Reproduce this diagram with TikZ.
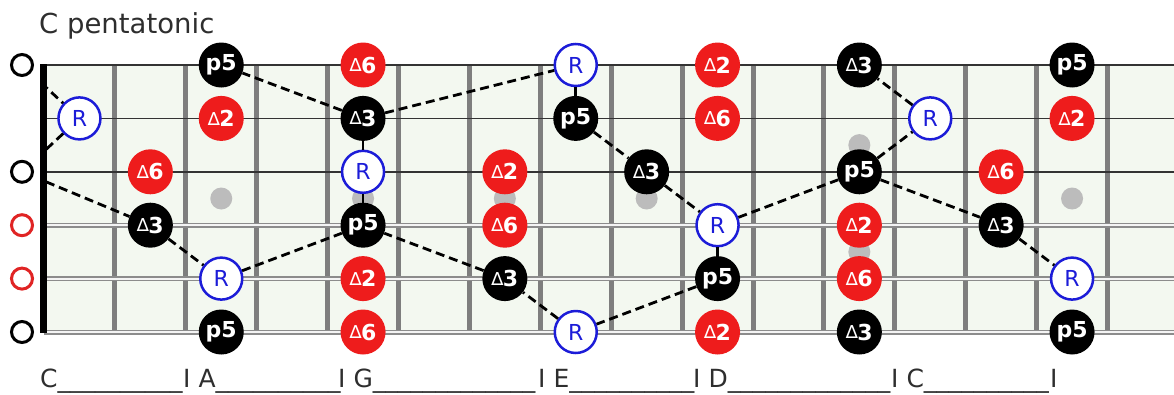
\documentclass[tikz,border=0pt]{standalone}
\usepackage{fontspec}
\setmainfont{DejaVu Sans}
\definecolor{boardfill}{HTML}{F3F8F0}
\definecolor{fretgray}{HTML}{7E7E7E}
\definecolor{dotgray}{HTML}{BCBCBC}
\definecolor{notered}{HTML}{EE1C1C}
\definecolor{rootblue}{HTML}{1C1CD8}
\definecolor{openred}{HTML}{E02424}
\definecolor{plainstring}{HTML}{333333}
\definecolor{woundedge}{HTML}{8C8C8C}
\definecolor{woundcore}{HTML}{F4F4F4}
\definecolor{labelgray}{HTML}{2E2E2E}
\newcommand\dmk{\raisebox{1.5pt}{\fontsize{18}{18}\selectfont\mdseries ∆}\kern-0.5pt}
\begin{document}
\begin{tikzpicture}[x=1pt,y=-1pt,
  note/.style={circle, minimum size=45pt, inner sep=0pt,
    font=\fontsize{22}{22}\selectfont\bfseries, text=white},
  blacknote/.style={note, fill=black},
  rednote/.style={note, fill=notered},
  rootnote/.style={note, minimum size=42pt, fill=white, draw=rootblue,
    line width=2.5pt, text=rootblue, font=\fontsize{22}{22}\selectfont},
  opennote/.style={circle, minimum size=21pt, inner sep=0pt, draw, line width=3pt, fill=white},
  link/.style={dash pattern=on 9pt off 5pt, line width=2.8pt, black},
  fretline/.style={fretgray, line width=5pt},
  posdot/.style={circle, fill=dotgray, minimum size=22pt, inner sep=0pt},
  caption/.style={anchor=base west, inner sep=0pt, text=labelgray,
    font=\fontsize{25}{25}\selectfont}]
\useasboundingbox (0,0) rectangle (1174,394);

% fretboard
\fill[boardfill] (44,65) rectangle (1174,332);
\foreach \n in {1,...,15}
  \draw[fretline] ({44+70.9*\n},65) -- ({44+70.9*\n},332);

% position markers
\foreach \f/\y in {3/198.5,5/198.5,7/198.5,9/198.5,12/145.1,12/251.9,15/198.5}
  \node[posdot] at ({44+70.9*(\f-0.5)},\y) {};

% strings: three plain, three wound
\foreach \y in {65,118.4,171.8}
  \draw[plainstring, line width=1.7pt] (44,\y) -- (1174,\y);
\foreach \y in {225.2,278.6,332}{
  \draw[woundedge, line width=5pt] (44,\y) -- (1174,\y);
  \draw[woundcore, line width=1.8pt] (44,\y) -- (1174,\y);
}

% nut
\draw[black, line width=6.5pt] (43.5,64) -- (43.5,333);

% open strings
\node[opennote, draw=black]   (o1) at (22,65) {};
\node[opennote, draw=black]   (o3) at (22,171.8) {};
\node[opennote, draw=openred] (o4) at (22,225.2) {};
\node[opennote, draw=openred] (o5) at (22,278.6) {};
\node[opennote, draw=black]   (o6) at (22,332) {};

% string 1
\node[blacknote] (s1f3)  at (221.25,65) {p5};
\node[rednote]   (s1f5)  at (363.05,65) {\dmk6};
\node[rootnote]  (s1f8)  at (575.75,65) {R};
\node[rednote]   (s1f10) at (717.55,65) {\dmk2};
\node[blacknote] (s1f12) at (859.35,65) {\dmk3};
\node[blacknote] (s1f15) at (1072.05,65) {p5};
% string 2
\node[rootnote]  (s2f1)  at (79.45,118.4) {R};
\node[rednote]   (s2f3)  at (221.25,118.4) {\dmk2};
\node[blacknote] (s2f5)  at (363.05,118.4) {\dmk3};
\node[blacknote] (s2f8)  at (575.75,118.4) {p5};
\node[rednote]   (s2f10) at (717.55,118.4) {\dmk6};
\node[rootnote]  (s2f13) at (930.25,118.4) {R};
\node[rednote]   (s2f15) at (1072.05,118.4) {\dmk2};
% string 3
\node[rednote]   (s3f2)  at (150.35,171.8) {\dmk6};
\node[rootnote]  (s3f5)  at (363.05,171.8) {R};
\node[rednote]   (s3f7)  at (504.85,171.8) {\dmk2};
\node[blacknote] (s3f9)  at (646.65,171.8) {\dmk3};
\node[blacknote] (s3f12) at (859.35,171.8) {p5};
\node[rednote]   (s3f14) at (1001.15,171.8) {\dmk6};
% string 4
\node[blacknote] (s4f2)  at (150.35,225.2) {\dmk3};
\node[blacknote] (s4f5)  at (363.05,225.2) {p5};
\node[rednote]   (s4f7)  at (504.85,225.2) {\dmk6};
\node[rootnote]  (s4f10) at (717.55,225.2) {R};
\node[rednote]   (s4f12) at (859.35,225.2) {\dmk2};
\node[blacknote] (s4f14) at (1001.15,225.2) {\dmk3};
% string 5
\node[rootnote]  (s5f3)  at (221.25,278.6) {R};
\node[rednote]   (s5f5)  at (363.05,278.6) {\dmk2};
\node[blacknote] (s5f7)  at (504.85,278.6) {\dmk3};
\node[blacknote] (s5f10) at (717.55,278.6) {p5};
\node[rednote]   (s5f12) at (859.35,278.6) {\dmk6};
\node[rootnote]  (s5f15) at (1072.05,278.6) {R};
% string 6
\node[blacknote] (s6f3)  at (221.25,332) {p5};
\node[rednote]   (s6f5)  at (363.05,332) {\dmk6};
\node[rootnote]  (s6f8)  at (575.75,332) {R};
\node[rednote]   (s6f10) at (717.55,332) {\dmk2};
\node[blacknote] (s6f12) at (859.35,332) {\dmk3};
\node[blacknote] (s6f15) at (1072.05,332) {p5};

% connecting path through the scale shapes
\begin{scope}
  \clip (46,0) rectangle (1174,394);
  \draw[link] (o1) -- (s2f1);
  \draw[link] (s2f1) -- (o3);
  \draw[link] (o3) -- (s4f2);
\end{scope}
\draw[link] (s4f2) -- (s5f3);
\draw[link] (s5f3) -- (s4f5);
\draw[link] (s4f5) -- (s3f5);
\draw[link] (s3f5) -- (s2f5);
\draw[link] (s2f5) -- (s1f3);
\draw[link] (s2f5) -- (s1f8);
\draw[link] (s1f8) -- (s2f8);
\draw[link] (s2f8) -- (s3f9);
\draw[link] (s3f9) -- (s4f10);
\draw[link] (s4f10) -- (s5f10);
\draw[link] (s5f10) -- (s6f8);
\draw[link] (s6f8) -- (s5f7);
\draw[link] (s5f7) -- (s4f5);
\draw[link] (s4f10) -- (s3f12);
\draw[link] (s3f12) -- (s2f13);
\draw[link] (s2f13) -- (s1f12);
\draw[link] (s3f12) -- (s4f14);
\draw[link] (s4f14) -- (s5f15);

% title and chord-shape names
\node[caption, font=\fontsize{27.5}{27.5}\selectfont] (title) at (39,33) {C pentatonic};
\node[caption] (c1) at (40,387) {C\_\_\_\_\_\_\_\_\_\_};
\node[caption] (c2) at (183,387) {I A\_\_\_\_\_\_\_\_\_\_};
\node[caption] (c3) at (338,387) {I G\_\_\_\_\_\_\_\_\_\_\_\_\_};
\node[caption] (c4) at (538,387) {I E\_\_\_\_\_\_\_\_\_\_};
\node[caption] (c5) at (693,387) {I D\_\_\_\_\_\_\_\_\_\_\_\_\_};
\node[caption] (c6) at (891,387) {I C\_\_\_\_\_\_\_\_\_\_};
\node[caption] (c7) at (1050,387) {I};
\end{tikzpicture}
\end{document}
